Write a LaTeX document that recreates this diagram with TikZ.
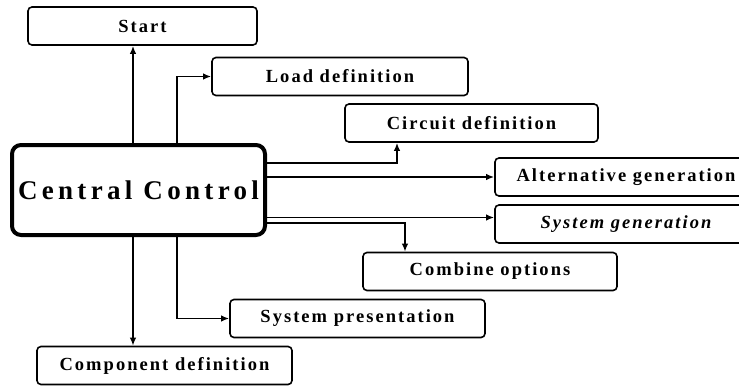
\documentclass[tikz,border=0pt]{standalone}
\usepackage{fontspec}
\setmainfont{Liberation Serif}
\newfontfamily\boxfont[LetterSpace=11]{Liberation Serif}
\newfontfamily\bigfont[LetterSpace=16]{Liberation Serif}
\usetikzlibrary{arrows.meta,positioning}

\tikzset{
  block/.style={draw, line width=1.6pt, rounded corners=4pt, inner sep=0pt,
                minimum height=38pt, font=\boxfont\fontsize{18.5}{21}\selectfont\bfseries},
  hub/.style={draw, line width=4pt, rounded corners=9pt, inner sep=0pt,
              minimum width=253pt, minimum height=90pt,
              font=\bigfont\fontsize{27}{31}\selectfont\bfseries},
  link/.style={line width=1.6pt, -{Latex[length=8pt,width=6.5pt]}}
}

\begin{document}
\begin{tikzpicture}[x=1pt,y=-1pt]
  \clip (0,0) rectangle (739,388);
  \useasboundingbox (0,0) rectangle (739,388);
  % Hub
  \node[hub] (central) at (138.5,190) {Central Control};
  % Modules
  \node[block, minimum width=229pt] (start) at (142.5,26) {Start};
  \node[block, minimum width=256pt] (load) at (340,76.5) {Load definition};
  \node[block, minimum width=253pt] (circuit) at (471.5,123) {Circuit definition};
  \node[block, minimum width=262pt] (alt) at (626,177) {Alternative generation};
  \node[block, minimum width=262pt, font=\boxfont\fontsize{18.5}{21}\selectfont\bfseries\itshape] (sysgen) at (626,224) {System generation};
  \node[block, minimum width=254pt] (combine) at (490,271.5) {Combine options};
  \node[block, minimum width=255pt] (present) at (357.5,318.5) {System presentation};
  \node[block, minimum width=255pt] (component) at (164.5,365.5) {Component definition};
  % Links
  \draw[link] ([xshift=-5.5pt]central.north) -- ([xshift=-5.5pt]central.north |- start.south);
  \draw[link] ([xshift=38.5pt]central.north) |- (load.west);
  \draw[link] ([yshift=27pt]central.east) -| ([xshift=-74.5pt]circuit.south);
  \draw[link] ([yshift=13pt]central.east) -- (alt.west);
  \draw[link] ([yshift=-27.5pt]central.east) -- ([yshift=-27.5pt]central.east -| sysgen.west);
  \draw[link] ([yshift=-33pt]central.east) -| ([xshift=-85pt]combine.north);
  \draw[link] ([xshift=38.5pt]central.south) |- (present.west);
  \draw[link] ([xshift=-5.5pt]central.south) -- ([xshift=-5.5pt]central.south |- component.north);
\end{tikzpicture}
\end{document}
